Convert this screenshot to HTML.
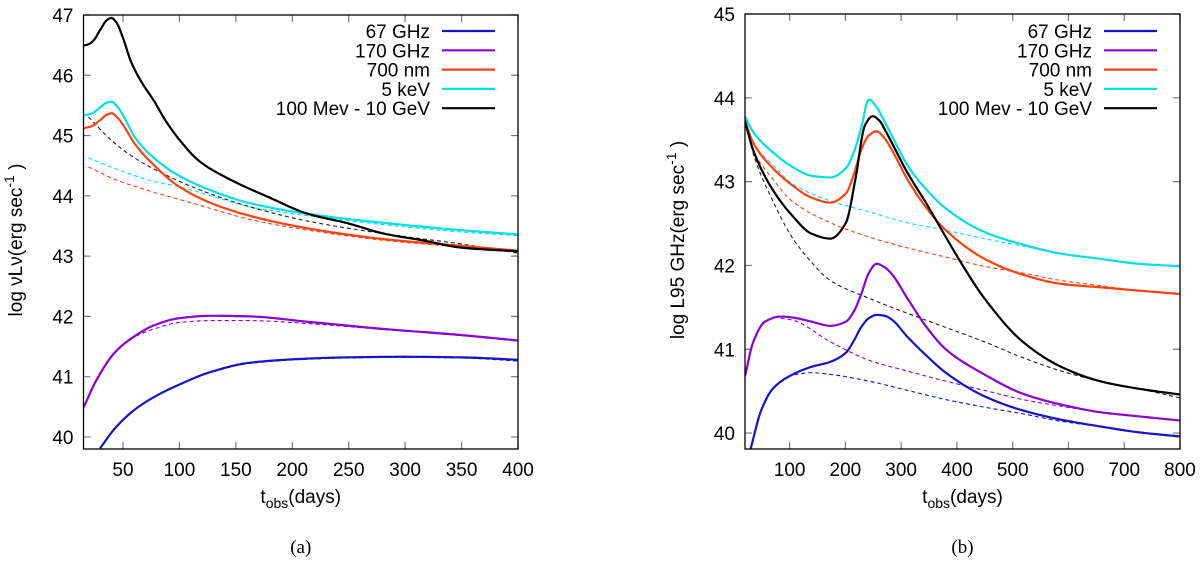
<!DOCTYPE html>
<html><head><meta charset="utf-8"><style>
html,body{margin:0;padding:0;background:#fff;}
svg text{font-family:"Liberation Sans",sans-serif;fill:#000;}
</style></head><body>
<svg id="chart" width="1200" height="561" viewBox="0 0 1200 561" xmlns="http://www.w3.org/2000/svg"></svg>
<script>
// ---------- Panel (a) data ----------
const seriesNames = ["67 GHz","170 GHz","700 nm","5 keV","100 Mev - 10 GeV"];
const seriesColors = ["#1414c8","#8c00d4","#ff4010","#00e0e8","#000000"];
const aXTicks = [50,100,150,200,250,300,350,400];
const aYTicks = [40,41,42,43,44,45,46,47];
const aBlueT = [29.6,43.2,60.2,77.3,100,128,162,214,248,299,350,400];
const aBlueV = [39.81,40.15,40.45,40.66,40.87,41.08,41.23,41.30,41.32,41.33,41.32,41.28];
const aBlueDT = [29.6,43.2,60.2,77.3,100,128,162,214,248,299,350,400];
const aBlueDV = [39.81,40.15,40.45,40.66,40.87,41.07,41.22,41.29,41.31,41.32,41.31,41.26];
const aPurpT = [14.9,26.1,43.2,60.2,77.3,100,128,162,214,282,350,400];
const aPurpV = [40.48,40.93,41.41,41.67,41.85,41.97,42.01,42.00,41.91,41.79,41.69,41.60];
const aPurpDT = [14.9,26.1,43.2,60.2,77.3,100,128,162,214,282,350,400];
const aPurpDV = [40.48,40.93,41.41,41.66,41.79,41.90,41.93,41.93,41.88,41.78,41.68,41.59];
const aOrT = [14.9,22.7,30,36,39.8,45,52,60.2,77.3,100,128,162,214,282,350,400];
const aOrV = [45.12,45.16,45.26,45.35,45.37,45.30,45.12,44.87,44.51,44.15,43.88,43.67,43.46,43.28,43.17,43.09];
const aOrDT = [19.3,43.2,77.3,100,128,162,214,282,350,400];
const aOrDV = [44.48,44.27,44.06,43.94,43.79,43.61,43.43,43.26,43.15,43.08];
const aCyT = [14.9,22.7,30,36,39.8,45,52,60.2,77.3,100,128,162,214,282,350,400];
const aCyV = [45.33,45.37,45.47,45.55,45.56,45.48,45.27,44.98,44.63,44.33,44.09,43.88,43.70,43.55,43.43,43.36];
const aCyDT = [19.3,43.2,77.3,100,128,162,214,282,350,400];
const aCyDV = [44.63,44.45,44.24,44.15,44.00,43.82,43.67,43.52,43.40,43.34];
const aBlkT = [14.9,20,24,30,36,39.8,44,50,56.8,66,77.3,88,100,118,145,180,214,248,282,316,350,400];
const aBlkV = [46.49,46.52,46.58,46.76,46.92,46.95,46.88,46.62,46.24,45.90,45.58,45.24,44.93,44.57,44.27,43.97,43.70,43.55,43.37,43.26,43.14,43.08];
const aBlkDT = [19.3,39.8,60.2,100,128,162,214,282,350,400];
const aBlkDV = [45.31,44.92,44.63,44.24,44.03,43.82,43.58,43.37,43.20,43.05];

// ---------- Panel (b) data ----------
const bXTicks = [100,200,300,400,500,600,700,800];
const bYTicks = [40,41,42,43,44,45];
const bCyT = [20,35,70,104,139,173,201,215,228,242,256,270,284,311,346,380,449,518,587,656,725,800];
const bCyV = [43.78,43.59,43.35,43.18,43.07,43.05,43.16,43.35,43.63,43.98,43.89,43.72,43.54,43.20,42.90,42.68,42.40,42.25,42.14,42.08,42.02,41.99];
const bCyDT = [20,35,70,104,173,242,311,380,449,518,587,656,725,800];
const bCyDV = [43.76,43.46,43.20,42.98,42.77,42.64,42.51,42.42,42.32,42.23,42.14,42.08,42.02,41.99];
const bOrT = [20,35,70,104,139,173,201,215,228,242,256,270,284,311,346,380,449,518,587,656,725,800];
const bOrV = [43.72,43.46,43.16,42.96,42.81,42.75,42.86,43.08,43.37,43.55,43.60,43.52,43.37,43.03,42.68,42.42,42.08,41.89,41.78,41.74,41.70,41.66];
const bOrDT = [20,35,70,104,173,242,311,380,449,518,587,656,725,800];
const bOrDV = [43.72,43.37,43.03,42.77,42.51,42.34,42.21,42.10,41.99,41.91,41.82,41.76,41.70,41.66];
const bBlkT = [20,35,70,104,139,173,201,218,235,249,262,270,311,346,380,415,449,518,587,656,725,800];
const bBlkV = [43.72,43.37,42.90,42.60,42.38,42.32,42.51,43.03,43.67,43.78,43.72,43.63,43.11,42.73,42.34,41.95,41.61,41.09,40.79,40.62,40.53,40.46];
const bBlkDT = [20,35,70,104,139,173,242,311,380,449,518,587,656,725,800];
const bBlkDV = [43.76,43.33,42.77,42.34,42.04,41.82,41.61,41.43,41.26,41.09,40.90,40.74,40.62,40.53,40.42];
const bPurpT = [20,35,56,84,104,139,173,201,215,228,242,256,270,284,311,346,380,449,518,587,656,725,800];
const bPurpV = [40.68,41.09,41.33,41.39,41.38,41.33,41.28,41.33,41.45,41.65,41.91,42.02,41.98,41.89,41.61,41.26,41.00,40.70,40.47,40.34,40.25,40.20,40.15];
const bPurpDT = [84,104,173,242,311,380,449,518,587,656,725,800];
const bPurpDV = [41.37,41.35,41.09,40.87,40.74,40.62,40.51,40.40,40.32,40.25,40.20,40.15];
const bBlueT = [30,49,70,100,139,173,201,215,228,242,256,270,284,311,346,380,449,518,587,656,725,800];
const bBlueV = [39.81,40.27,40.53,40.68,40.79,40.85,40.96,41.10,41.26,41.37,41.41,41.40,41.35,41.15,40.92,40.72,40.44,40.27,40.16,40.08,40.01,39.96];
const bBlueDT = [30,49,70,100,139,173,242,311,380,449,518,587,656,725,800];
const bBlueDV = [39.81,40.27,40.53,40.68,40.72,40.70,40.62,40.51,40.40,40.31,40.23,40.14,40.08,40.01,39.95];

const NS = "http://www.w3.org/2000/svg";
const svg = document.getElementById("chart");
function mk(tag, attrs, parent){
  const e = document.createElementNS(NS, tag);
  for (const k in attrs) e.setAttribute(k, attrs[k]);
  (parent||svg).appendChild(e);
  return e;
}
// monotone cubic (Fritsch-Carlson) interpolation, sampled densely
function monoSample(xs, ys){
  const n = xs.length, d = [], m = [];
  for (let i=0;i<n-1;i++) d.push((ys[i+1]-ys[i])/(xs[i+1]-xs[i]));
  m[0]=d[0]; m[n-1]=d[n-2];
  for (let i=1;i<n-1;i++){
    if (d[i-1]*d[i] <= 0) m[i]=0;
    else { const h0=xs[i]-xs[i-1], h1=xs[i+1]-xs[i];
      const w1=2*h1+h0, w2=h1+2*h0; m[i]=(w1+w2)/(w1/d[i-1]+w2/d[i]); }
  }
  const out=[];
  for (let i=0;i<n-1;i++){
    const h=xs[i+1]-xs[i];
    for (let k=0;k<12;k++){
      const t=k/12, t2=t*t, t3=t2*t;
      const y=(2*t3-3*t2+1)*ys[i]+(t3-2*t2+t)*h*m[i]+(-2*t3+3*t2)*ys[i+1]+(t3-t2)*h*m[i+1];
      out.push([xs[i]+t*h, y]);
    }
  }
  out.push([xs[n-1], ys[n-1]]);
  return out;
}

function panel(cfg){
  const g = mk("g", {});
  
  
  const L=cfg.left, R=cfg.right, T=cfg.top, B=cfg.bottom;
  const xs = v => L + (v-cfg.xmin)/(cfg.xmax-cfg.xmin)*(R-L);
  const ys = v => B - (v-cfg.ymin)/(cfg.ymax-cfg.ymin)*(B-T);
  const clipId = "clip-"+cfg.name;
  const cp = mk("clipPath", {id:clipId}, g);
  mk("rect", {x:L, y:T, width:R-L, height:B-T}, cp);
  cfg.xticks.forEach(t=>{
    const x = xs(t);
    const tk = mk("path", {d:"M"+x+","+B+"v-7M"+x+","+T+"v7", stroke:"#777", "stroke-width":1.2}, g);
    
    
    const lb = mk("text", {x:x, y:B+27, "text-anchor":"middle", "font-size":19}, g);
    lb.textContent = t;
    
    
  });
  cfg.yticks.forEach(t=>{
    const y = ys(t);
    const tk = mk("path", {d:"M"+L+","+y+"h7M"+R+","+y+"h-7", stroke:"#777", "stroke-width":1.2}, g);
    
    
    const lb = mk("text", {x:L-10, y:y+7, "text-anchor":"end", "font-size":19}, g);
    lb.textContent = t;
    
    
  });
  const cg = mk("g", {"clip-path":"url(#"+clipId+")"}, g);
  cfg.series.forEach(s=>{
    const pts = monoSample(s.t, s.v).map(p=>[xs(p[0]), ys(p[1])]);
    const d = "M"+pts.map(p=>p[0].toFixed(2)+","+p[1].toFixed(2)).join("L");
    const p = mk("path", {d:d, fill:"none", stroke:s.color, "stroke-width":s.dash?1.1:2.2, "stroke-dasharray":s.dash?"4,3":"none", "stroke-linejoin":"round"}, cg);
    
    
  });
  const fr = mk("rect", {x:L, y:T, width:R-L, height:B-T, fill:"none", stroke:"#000", "stroke-width":1.3}, g);
  
  
  const lg = mk("g", {}, g);
  
  
  seriesNames.forEach((n,i)=>{
    const y = 31 + i*19.3;
    const e = mk("g", {}, lg);
    
    
    const tx = mk("text", {x:cfg.legX, y:y+7, "text-anchor":"end", "font-size":19}, e);
    tx.textContent = n;
    mk("line", {x1:cfg.legX+12, x2:cfg.legX+65, y1:y, y2:y, stroke:seriesColors[i], "stroke-width":2.2}, e);
  });
  const xt = mk("text", {x:(L+R)/2, y:B+54, "text-anchor":"middle", "font-size":19}, g);
  xt.innerHTML = 't<tspan font-size="14" dy="5">obs</tspan><tspan dy="-5">(days)</tspan>';
  
  
  const yt = mk("text", {x:0, y:0, "text-anchor":"middle", "font-size":19, transform:"translate("+cfg.ylabX+",240) rotate(-90)"}, g);
  yt.innerHTML = cfg.ylab + '(erg sec<tspan font-size="14" dy="-8">-1</tspan><tspan dy="8"> )</tspan>';
  
  
  const cap = mk("text", {x:(L+R)/2, y:553, "text-anchor":"middle", "font-size":19, style:"font-family:'Liberation Serif',serif"}, g);
  cap.textContent = cfg.caption;
  
  
}

panel({name:"panel-a", left:83.5, right:518, top:15, bottom:449, xmin:15, xmax:400, ymin:39.8, ymax:47,
  xticks:aXTicks, yticks:aYTicks, legX:430, ylabX:22, ylab:"log νLν", caption:"(a)",
  series:[
    {t:aBlueDT,v:aBlueDV,color:seriesColors[0],dash:true,label:"67ghz-dashed"},
    {t:aPurpDT,v:aPurpDV,color:seriesColors[1],dash:true,label:"170ghz-dashed"},
    {t:aOrDT,v:aOrDV,color:seriesColors[2],dash:true,label:"700nm-dashed"},
    {t:aCyDT,v:aCyDV,color:seriesColors[3],dash:true,label:"5kev-dashed"},
    {t:aBlkDT,v:aBlkDV,color:"#222",dash:true,label:"gamma-dashed"},
    {t:aBlueT,v:aBlueV,color:seriesColors[0],label:"67ghz-line"},
    {t:aPurpT,v:aPurpV,color:seriesColors[1],label:"170ghz-line"},
    {t:aOrT,v:aOrV,color:seriesColors[2],label:"700nm-line"},
    {t:aCyT,v:aCyV,color:seriesColors[3],label:"5kev-line"},
    {t:aBlkT,v:aBlkV,color:seriesColors[4],label:"gamma-line"}
  ]});
panel({name:"panel-b", left:745, right:1180, top:14, bottom:449, xmin:20, xmax:800, ymin:39.81, ymax:45,
  xticks:bXTicks, yticks:bYTicks, legX:1092, ylabX:684, ylab:"log L95 GHz", caption:"(b)",
  series:[
    {t:bBlueDT,v:bBlueDV,color:seriesColors[0],dash:true,label:"67ghz-dashed"},
    {t:bPurpDT,v:bPurpDV,color:seriesColors[1],dash:true,label:"170ghz-dashed"},
    {t:bOrDT,v:bOrDV,color:seriesColors[2],dash:true,label:"700nm-dashed"},
    {t:bCyDT,v:bCyDV,color:seriesColors[3],dash:true,label:"5kev-dashed"},
    {t:bBlkDT,v:bBlkDV,color:"#222",dash:true,label:"gamma-dashed"},
    {t:bBlueT,v:bBlueV,color:seriesColors[0],label:"67ghz-line"},
    {t:bPurpT,v:bPurpV,color:seriesColors[1],label:"170ghz-line"},
    {t:bOrT,v:bOrV,color:seriesColors[2],label:"700nm-line"},
    {t:bCyT,v:bCyV,color:seriesColors[3],label:"5kev-line"},
    {t:bBlkT,v:bBlkV,color:seriesColors[4],label:"gamma-line"}
  ]});
</script>
</body></html>
